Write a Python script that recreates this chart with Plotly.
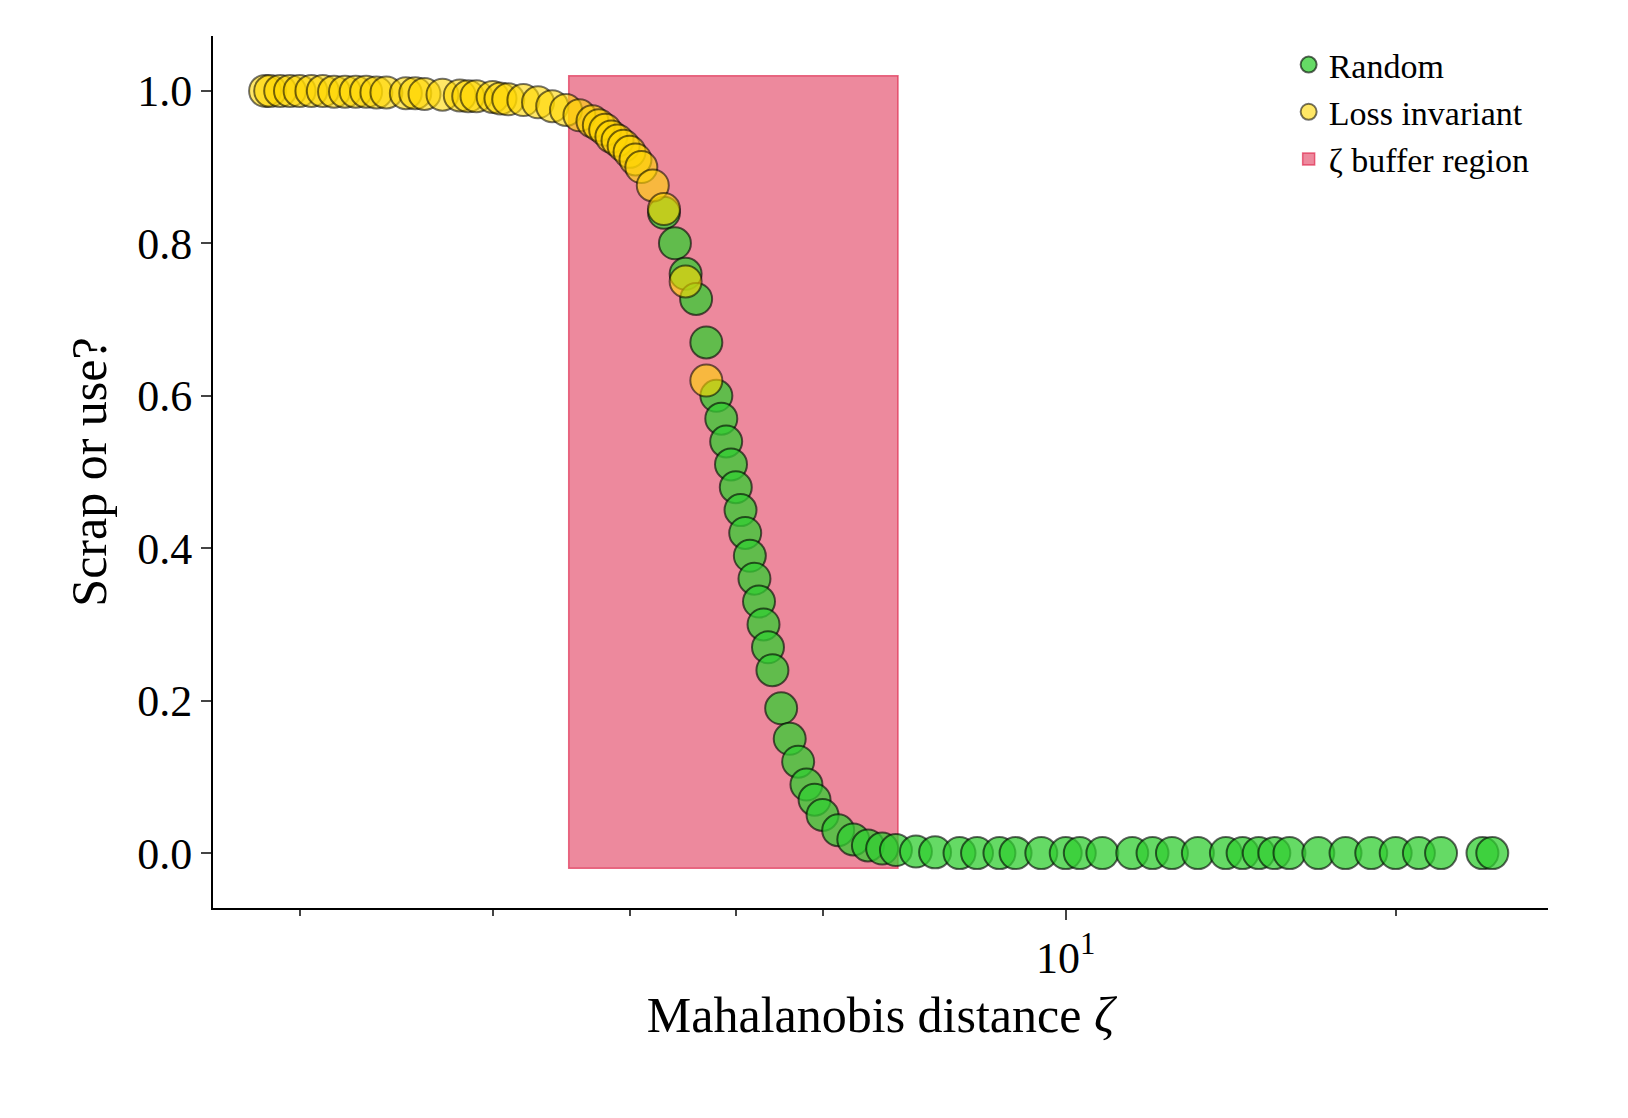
import plotly.graph_objects as go

loss_x = [1.86, 1.88, 1.92, 1.96, 2.0, 2.05, 2.1, 2.15, 2.2, 2.25, 2.3, 2.35, 2.4, 2.5, 2.55, 2.6, 2.7,
          2.8, 2.85, 2.9, 3.0, 3.05, 3.1, 3.2, 3.3, 3.4, 3.5, 3.6, 3.7, 3.75, 3.8, 3.85, 3.9, 3.95,
          4.0, 4.05, 4.1, 4.2, 4.3, 4.5, 4.7]
loss_y = [1.0, 1.0, 1.0, 1.0, 1.0, 1.0, 1.0, 0.999, 0.999, 0.999, 0.999, 0.998, 0.998, 0.997, 0.997,
          0.996, 0.995, 0.994, 0.993, 0.993, 0.992, 0.99, 0.989, 0.988, 0.985, 0.98, 0.975, 0.968,
          0.96, 0.955, 0.949, 0.94, 0.935, 0.928, 0.92, 0.91, 0.9, 0.876, 0.845, 0.75, 0.62]

rand_x = [4.3, 4.4, 4.5, 4.6, 4.7, 4.8, 4.85, 4.9, 4.95, 5.0, 5.05, 5.1, 5.15,
          5.2, 5.25, 5.3, 5.35, 5.4, 5.5, 5.6, 5.7, 5.8, 5.9, 6.0, 6.2, 6.4, 6.6, 6.8, 7.0, 7.3,
          7.6, 8.0, 8.3, 8.7, 9.0, 9.5, 10.0, 10.3, 10.8, 11.5, 12.0, 12.5, 13.2, 14.0, 14.5, 15.0,
          15.5, 16.0, 17.0, 18.0, 19.0, 20.0, 21.0, 22.0, 24.0, 24.5]
rand_y = [0.84, 0.8, 0.76, 0.727, 0.67, 0.6, 0.57, 0.54, 0.51, 0.48,
          0.45, 0.42, 0.39, 0.36, 0.33, 0.3, 0.27, 0.24, 0.19, 0.15, 0.12, 0.09, 0.07, 0.05,
          0.03, 0.018, 0.01, 0.006, 0.004, 0.002, 0.001, 0.0, 0.0, 0.0, 0.0, 0.0, 0.0,
          0.0, 0.0, 0.0, 0.0, 0.0, 0.0, 0.0, 0.0, 0.0, 0.0, 0.0, 0.0, 0.0, 0.0, 0.0, 0.0, 0.0, 0.0, 0.0]

buffer_x = [3.52, 7.03]
buffer_y = [-0.02, 1.02]

FONT = "Liberation Serif"

fig = go.Figure()
fig.add_trace(go.Scatter(x=rand_x, y=rand_y, mode="markers", name="Random",
                         marker=dict(size=32, color="rgba(50,205,50,0.75)",
                                     line=dict(color="rgba(0,0,0,0.6)", width=2))))
fig.add_trace(go.Scatter(x=loss_x, y=loss_y, mode="markers", name="Loss invariant",
                         marker=dict(size=32, color="rgba(255,215,0,0.6)",
                                     line=dict(color="rgba(0,0,0,0.55)", width=2))))

fig.add_shape(type="rect", xref="x", yref="y", x0=buffer_x[0], x1=buffer_x[1],
              y0=buffer_y[0], y1=buffer_y[1], fillcolor="rgba(220,20,60,0.5)",
              line=dict(color="rgba(220,20,60,0.6)", width=1.5), layer="below",
              showlegend=True, name="ζ buffer region")

fig.update_layout(
    width=1628, height=1118, plot_bgcolor="white", paper_bgcolor="white",
    margin=dict(l=205, r=88, t=28, b=218),
    font=dict(family=FONT, size=44, color="black"),
    legend=dict(x=0.99, y=1.0, xanchor="right", yanchor="top", bgcolor="rgba(0,0,0,0)",
                font=dict(size=34), itemsizing="trace", tracegroupgap=12),
)
fig.update_xaxes(type="log", range=[0.222, 1.44], showgrid=False, showline=True,
                 linecolor="black", linewidth=2, ticks="outside", ticklen=10, tickwidth=2,
                 tickvals=[10], ticktext=["10<sup>1</sup>"],
                 minor=dict(ticks="outside", ticklen=6, tickwidth=1.5,
                            tickvals=[2, 3, 4, 5, 6, 20], showgrid=False),
                 title=dict(text="Mahalanobis distance <i>ζ</i>", font=dict(size=50)),
                 zeroline=False)
fig.update_yaxes(range=[-0.072, 1.072], showgrid=False, showline=True, linecolor="black",
                 linewidth=2, ticks="outside", ticklen=10, tickwidth=2,
                 tickvals=[0, 0.2, 0.4, 0.6, 0.8, 1.0], tickformat=".1f",
                 title=dict(text="Scrap or use?", font=dict(size=50)), zeroline=False)

fig.write_html("out.html")
